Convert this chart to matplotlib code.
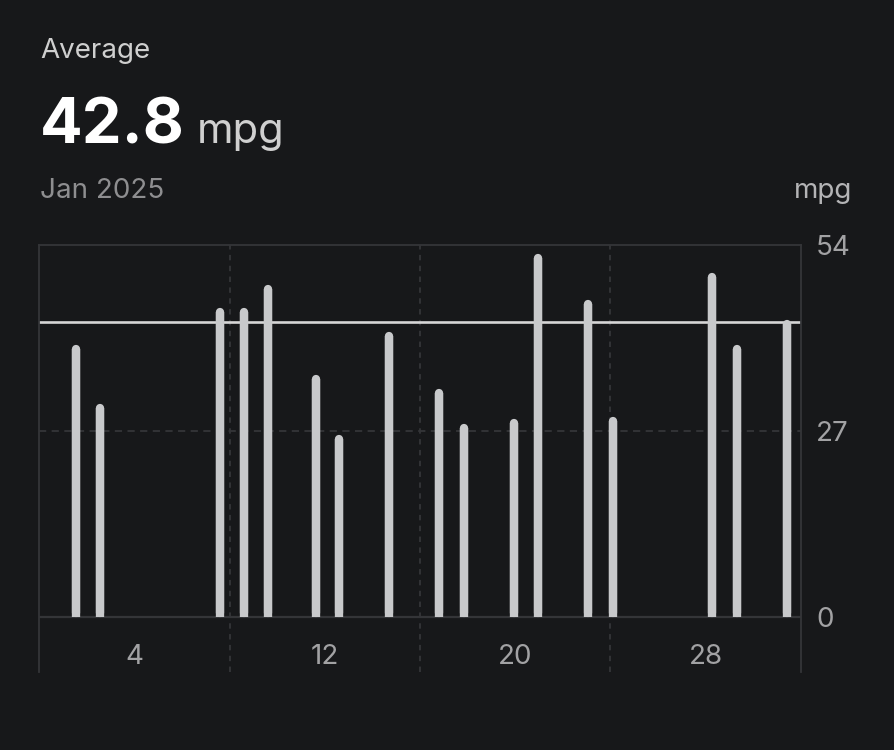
import matplotlib
matplotlib.use("Agg")
import matplotlib.pyplot as plt

plt.rcParams['font.family'] = ['Inter', 'DejaVu Sans']

# fill-ups in Jan 2025 (position on the day axis) and mpg for each
fill_pos = [1.55, 2.55, 7.58, 8.60, 9.61, 11.63, 12.61, 14.70, 16.80,
            17.84, 19.94, 20.97, 23.06, 24.11, 28.27, 29.32, 31.41]
mpg_values = [39.5, 31.0, 44.8, 44.8, 48.2, 35.2, 26.4, 41.4, 33.1,
              28.0, 28.8, 52.7, 46.0, 29.1, 49.9, 39.5, 43.1]
average = 42.8
y_ticks = [0, 27, 54]
x_labels = [4, 12, 20, 28]
x_grid = [8, 16, 24]

bg = '#17181a'
frame = '#343538'
bar_col = '#c8c9cb'

fig = plt.figure(figsize=(8.95, 7.5), dpi=100, facecolor=bg)
W, H = 895, 750
left, right, top, bottom = 39.3, 800.7, 245, 672
ax = fig.add_axes([left / W, 1 - bottom / H, (right - left) / W, (bottom - top) / H])
ax.set_facecolor(bg)

px_per_unit = (617.3 - 245) / 54
ax.set_xlim(0, 32)
ax.set_ylim(-(bottom - 617.3) / px_per_unit, 54)

# grid
ax.axhline(27, color=frame, lw=1.3, dashes=(4, 3), zorder=1)
for g in x_grid:
    ax.axvline(g, color=frame, lw=1.3, dashes=(3, 3), zorder=1)
ax.axhline(0, color=frame, lw=1.6, zorder=1)

# bars with rounded tops
r = 4 / px_per_unit
lw = 8.3 * 72 / 100
ax.vlines(fill_pos, 0, [v - r for v in mpg_values], color=bar_col, lw=lw,
          capstyle='butt', zorder=3)
ax.vlines(fill_pos, r, [v - r for v in mpg_values], color=bar_col, lw=lw,
          capstyle='round', zorder=3)

# average line
ax.axhline(average, color='#d6d6d6', lw=1.9, zorder=2)

for s in ['top', 'left', 'right']:
    ax.spines[s].set_color(frame)
    ax.spines[s].set_linewidth(1.3)
ax.spines['bottom'].set_visible(False)

ax.yaxis.tick_right()
ax.set_yticks(y_ticks)
ax.set_yticklabels([str(t) for t in y_ticks])
ax.tick_params(axis='y', length=0, pad=11, labelsize=20, labelcolor='#a2a2a4')
ax.set_xticks([])

for d in x_labels:
    ax.text(d, -5.7, str(d), ha='center', va='center', fontsize=20, color='#a2a2a4')

# header
fig.text(40 / W, 1 - 58.3 / H, 'Average', fontsize=20, color='#cfcfcf', va='baseline')
fig.text(40 / W, 1 - 143.3 / H, '42.8', fontsize=45.5, fontweight='bold',
         color='white', va='baseline')
fig.text(196.7 / W, 1 - 143.3 / H, 'mpg', fontsize=30, color='#d0d0d0', va='baseline')
fig.text(40 / W, 1 - 198.3 / H, 'Jan 2025', fontsize=20, color='#8e8e90', va='baseline')
fig.text(823 / W, 1 - 198.3 / H, 'mpg', fontsize=20, color='#b4b4b6',
         ha='center', va='baseline')

fig.savefig('out.png', dpi=100, facecolor=bg)
